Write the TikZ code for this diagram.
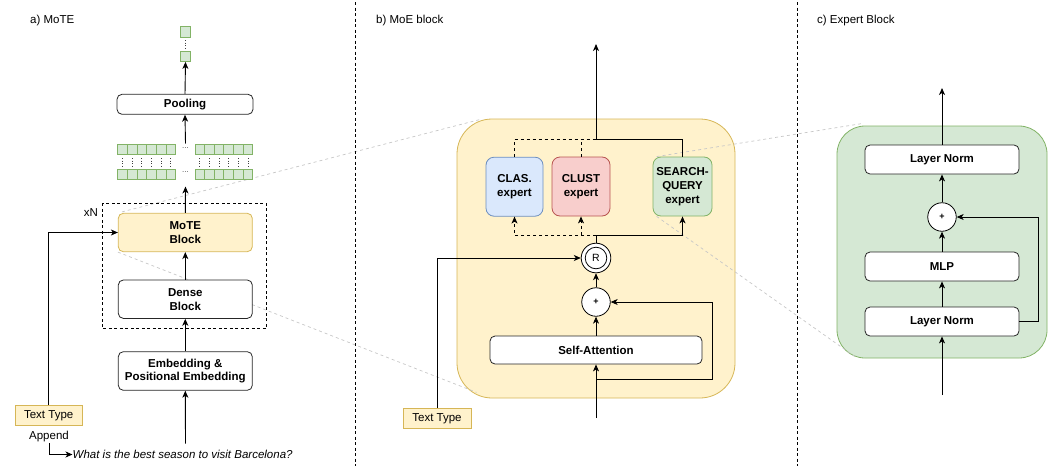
\documentclass[tikz,border=0pt]{standalone}
\usepackage{fontspec}
\setmainfont{Liberation Sans}
\usetikzlibrary{arrows.meta,calc}
\definecolor{yfill}{HTML}{FFF2CC}
\definecolor{ydraw}{HTML}{D6B656}
\definecolor{gfill}{HTML}{D5E8D4}
\definecolor{gdraw}{HTML}{82B366}
\definecolor{bfill}{HTML}{DAE8FC}
\definecolor{bdraw}{HTML}{6C8EBF}
\definecolor{rfill}{HTML}{F8CECC}
\definecolor{rdraw}{HTML}{B85450}
\pgfdeclarelayer{bg}
\pgfdeclarelayer{mid}
\pgfsetlayers{bg,mid,main}
\begin{document}
\begin{tikzpicture}[x=1pt,y=-1pt,
  every node/.style={font=\fontsize{11.5}{13.8}\selectfont, inner sep=0pt},
  line/.style={draw=black, line width=0.9pt},
  arr/.style={line, -{Stealth[length=7pt,width=6pt,inset=2pt]}},
  blk/.style={draw=black!85, line width=0.8pt, rounded corners=5pt, fill=white,
    font=\fontsize{11.5}{13.8}\selectfont\bfseries, align=center},
  tag/.style={draw=ydraw, fill=yfill, line width=0.8pt, minimum width=67pt, minimum height=20pt},
  expert/.style={blk, rounded corners=8pt, minimum width=58pt, minimum height=59pt},
  cell/.style={draw=gdraw, fill=gfill, line width=0.8pt, minimum width=9.65pt, minimum height=10pt},
  op/.style={circle, draw=black, fill=white, line width=0.8pt, minimum size=28.5pt,
    font=\fontsize{9}{10}\selectfont\bfseries},
  dots/.style={draw=black!75, line width=0.8pt, dash pattern=on 1pt off 1.6pt},
  divider/.style={draw=black, line width=0.8pt, dash pattern=on 3pt off 2.5pt},
  zoomline/.style={draw=black!22, line width=0.7pt, dash pattern=on 3pt off 3pt},
  title/.style={anchor=west}
]
\clip (0,0) rectangle (1048,466);

% panel dividers and titles
\draw[divider] (355.5,2) -- (355.5,466);
\draw[divider] (797,2) -- (797,466);
\node[title] (ta) at (30,20.5) {a) MoTE};
\node[title] (tb) at (376,20.5) {b) MoE block};
\node[title] (tc) at (817,20.5) {c) Expert Block};

% ---------------- a) MoTE ----------------
\node[cell, minimum width=10.4pt, minimum height=10.4pt] (out1) at (185.5,32) {};
\node[cell, minimum width=10.4pt, minimum height=10.4pt] (out2) at (185.5,56.3) {};
\draw[dots] (out1.south) ++(0,2.5) -- ($(out2.north)+(0,-2.5)$);

\node[blk, minimum width=136pt, minimum height=20pt] (pool) at (185,104.3) {Pooling};

\foreach \r/\y in {1/149.3,2/174} {
  \foreach \i in {0,...,5} {
    \node[cell] (l\r\i) at ({122.5+9.65*\i},\y) {};
    \node[cell] (r\r\i) at ({199.8+9.62*\i},\y) {};
  }
  \node[font=\fontsize{8}{8}\selectfont, text=black!70] (el\r) at (185.5,\y-1.5) {...};
}
\foreach \i in {0,...,5} {
  \draw[dots] ({122.5+9.65*\i},158) -- ({122.5+9.65*\i},166.5);
  \draw[dots] ({199.8+9.62*\i},158) -- ({199.8+9.62*\i},166.5);
}
\coordinate (gtop) at (185.5,143.5);
\coordinate (gbot) at (185.5,186.5);

\node[blk, fill=yfill, draw=ydraw, minimum width=134pt, minimum height=38.4pt] (mote) at (185.3,232.5) {MoTE\\Block};
\node[blk, minimum width=134pt, minimum height=38.4pt] (dense) at (185.3,299.2) {Dense\\Block};
\node[blk, minimum width=134pt, minimum height=38.6pt] (emb) at (185.3,371) {Embedding \&\\Positional Embedding};
\draw[divider, line width=0.7pt] (102.3,203.3) rectangle (266.3,328.7);
\node (xn) at (91,213) {xN};

\node[tag] (tta) at (48.7,415.5) {Text Type};
\node[fill=white, inner sep=1pt] (app) at (49,436.5) {Append};
\node[anchor=west, font=\fontsize{11.5}{13.8}\selectfont\itshape] (q) at (72.5,454.5) {What is the best season to visit Barcelona?};
\coordinate (ina) at (185.5,443.5);

\draw[arr] (pool.north) -- (out2.south);
\draw[arr] (gtop) -- (pool.south);
\draw[arr] (mote.north) -- (gbot);
\draw[arr] (dense.north) -- (mote.south);
\draw[arr] (emb.north) -- (dense.south);
\draw[arr] (ina) -- (emb.south);
\draw[arr] (tta.north) |- (mote.west);
\draw[arr] (app.south) |- (q.west);

% ---------------- b) MoE block ----------------
\begin{pgfonlayer}{bg}
\node[draw=ydraw, fill=yfill, line width=0.8pt, rounded corners=35pt,
  minimum width=278pt, minimum height=279pt] (moebox) at (596,258.5) {};
\node[draw=gdraw, fill=gfill, line width=0.8pt, rounded corners=28pt,
  minimum width=210pt, minimum height=232pt] (expbox) at (942,242) {};
\end{pgfonlayer}

\node[expert, fill=bfill, draw=bdraw, minimum width=57pt] (clas) at (514.5,186.7) {CLAS.\\expert};
\node[expert, fill=rfill, draw=rdraw] (clust) at (581,186.5) {CLUST\\expert};
\node[expert, fill=gfill, draw=gdraw, minimum width=59pt] (sq) at (682.5,186.5) {SEARCH-\\QUERY\\expert};

\node[circle, draw=black, fill=white, line width=0.8pt, minimum size=29.6pt] (rout) at (596,258) {};
\node[circle, draw=black, line width=0.8pt, minimum size=21.6pt, font=\fontsize{10.5}{11}\selectfont] (rin) at (rout.center) {R};
\node[op] (plusb) at (596,302) {+};
\node[blk, minimum width=212pt, minimum height=28pt] (sa) at (596,350) {Self-Attention};
\node[tag, minimum width=68pt] (ttb) at (437,418.3) {Text Type};

\coordinate (jt) at (596,139);
\coordinate (jb) at (596,235);
\coordinate (outb) at (596,44);
\coordinate (inb) at (596,418);
\coordinate (resb) at (596,379);

\draw[arr] (sq.north) |- (jt) -- (outb);
\draw[line, dashed] (clas.north) |- (jt);
\draw[line, dashed] (clust.north) -- (clust.north |- jt);
\draw[arr] (rout.north) -- (jb) -| (sq.south);
\draw[arr, dashed] (jb) -| (clas.south);
\draw[arr, dashed] (clust.south |- jb) -- (clust.south);
\draw[arr] (plusb.north) -- (rout.south);
\draw[arr] (sa.north) -- (plusb.south);
\draw[arr] (inb) -- (sa.south);
\draw[arr] (resb) -- (712,379) |- (plusb.east);
\draw[arr] (ttb.north) |- (rout.west);

% ---------------- c) Expert Block ----------------
\node[blk, minimum width=154pt, minimum height=29pt] (ln2) at (942,159.5) {Layer Norm};
\node[op] (plusc) at (942,217) {+};
\node[blk, minimum width=154pt, minimum height=29pt] (mlp) at (942,266.5) {MLP};
\node[blk, minimum width=154pt, minimum height=29pt] (ln1) at (942,321.5) {Layer Norm};
\coordinate (inc) at (942,395);
\coordinate (outc) at (942,88);

\draw[arr] (inc) -- (ln1.south);
\draw[arr] (ln1.north) -- (mlp.south);
\draw[arr] (mlp.north) -- (plusc.south);
\draw[arr] (plusc.north) -- (ln2.south);
\draw[arr] (ln2.north) -- (outc);
\draw[arr] (ln1.east) -- ++(19,0) |- (plusc.east);

% zoom guides between the panels
\begin{pgfonlayer}{mid}
\draw[zoomline] ($(mote.north west)+(4,-1)$) -- ($(moebox.north west)+(23,1)$);
\draw[zoomline] (mote.south west) -- ($(moebox.south west)+(20,-6)$);
\draw[zoomline] ($(sq.north west)+(4,0)$) -- ($(expbox.north west)+(25,-2)$);
\draw[zoomline] ($(sq.south west)+(4,0)$) -- ($(expbox.south west)+(18,-2)$);
\end{pgfonlayer}
\end{tikzpicture}
\end{document}
